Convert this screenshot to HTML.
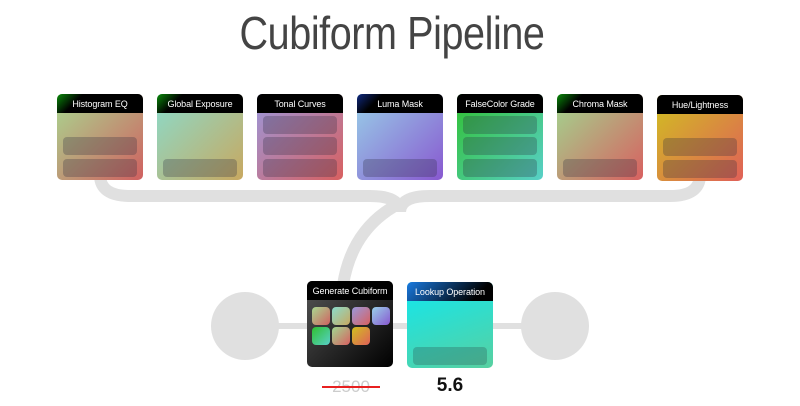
<!DOCTYPE html>
<html><head><style>
body{margin:0;width:800px;height:406px;background:#fff;position:relative;overflow:hidden;font-family:"Liberation Sans",sans-serif}
.t{position:absolute;left:392px;top:6px;font-size:46px;font-weight:300;color:#444;white-space:nowrap;transform:translateX(-50%) scaleX(0.86);letter-spacing:-0.5px}
.c{position:absolute;width:86px;height:86px;border-radius:5px;overflow:hidden}
.h{height:19px;background:#000;color:#fff;font-size:9px;text-align:center;line-height:20px;white-space:nowrap;letter-spacing:-0.1px}
.b{position:absolute;left:6px;width:74px;height:18px;border-radius:4px;background:rgba(40,40,60,.28)}
.s{position:absolute;width:18px;height:18px;border-radius:4px}
</style></head><body>
<svg width="800" height="406" style="position:absolute;left:0;top:0">
<g fill="none" stroke="#e0e0e0" stroke-width="12">
<path d="M100 175 Q100 196 130 196 L370 196 Q400 196 400 212"/>
<path d="M700 175 Q700 196 670 196 L430 196 Q400 196 400 212"/>
<path d="M400 203 Q352 228 343 285"/>
<path d="M245 326 L555 326" stroke-width="6"/>
</g>
<circle cx="245" cy="326" r="34" fill="#e0e0e0"/>
<circle cx="555" cy="326" r="34" fill="#e0e0e0"/>
</svg>
<div class="t">Cubiform Pipeline</div>

<div class="c" style="left:57px;top:94px;background:linear-gradient(135deg,#a8d890,#d06060)"><div class="h" style="background:linear-gradient(135deg,#0a8a0a,#000 25%)">Histogram EQ</div><div class="b" style="top:43px"></div><div class="b" style="top:65px"></div></div>
<div class="c" style="left:157px;top:94px;background:linear-gradient(135deg,#8adccc,#c8a860)"><div class="h" style="background:linear-gradient(135deg,#0a8a0a,#000 25%)">Global Exposure</div><div class="b" style="top:65px"></div></div>
<div class="c" style="left:257px;top:94px;background:linear-gradient(135deg,#9a98dc,#d86060)"><div class="h">Tonal Curves</div><div class="b" style="top:22px"></div><div class="b" style="top:43px"></div><div class="b" style="top:65px"></div></div>
<div class="c" style="left:357px;top:94px;background:linear-gradient(135deg,#98d0e8,#8858d0)"><div class="h" style="background:linear-gradient(135deg,#102a80,#000 25%)">Luma Mask</div><div class="b" style="top:65px"></div></div>
<div class="c" style="left:457px;top:94px;background:linear-gradient(135deg,#30c030,#58d0c8)"><div class="h">FalseColor Grade</div><div class="b" style="top:22px"></div><div class="b" style="top:43px"></div><div class="b" style="top:65px"></div></div>
<div class="c" style="left:557px;top:94px;background:linear-gradient(135deg,#a0d890,#d86060)"><div class="h" style="background:linear-gradient(135deg,#0a8a0a,#000 25%)">Chroma Mask</div><div class="b" style="top:65px"></div></div>
<div class="c" style="left:657px;top:95px;background:linear-gradient(135deg,#d0c020,#e06058)"><div class="h">Hue/Lightness</div><div class="b" style="top:43px"></div><div class="b" style="top:65px"></div></div>

<div class="c" style="left:307px;top:281px;background:linear-gradient(135deg,#555,#000)"><div class="h">Generate Cubiform</div>
<div class="s" style="left:5px;top:26px;background:linear-gradient(135deg,#a8d890,#d06060)"></div>
<div class="s" style="left:25px;top:26px;background:linear-gradient(135deg,#8adccc,#c8a860)"></div>
<div class="s" style="left:45px;top:26px;background:linear-gradient(135deg,#9a98dc,#d86060)"></div>
<div class="s" style="left:65px;top:26px;background:linear-gradient(135deg,#98d0e8,#8858d0)"></div>
<div class="s" style="left:5px;top:46px;background:linear-gradient(135deg,#30c030,#58d0c8)"></div>
<div class="s" style="left:25px;top:46px;background:linear-gradient(135deg,#a0d890,#d86060)"></div>
<div class="s" style="left:45px;top:46px;background:linear-gradient(135deg,#d0c020,#e06058)"></div>
</div>
<div class="c" style="left:407px;top:282px;background:linear-gradient(160deg,#10e8f0,#58d0a0)"><div class="h" style="background:linear-gradient(135deg,#1a7ae0,#000 80%)">Lookup Operation</div><div class="b" style="top:65px;background:rgba(40,80,80,.3)"></div></div>

<div style="position:absolute;left:322px;top:377px;width:58px;text-align:center;font-size:17px;color:#ccc">2500</div>
<div style="position:absolute;left:322px;top:386px;width:58px;height:2px;background:#e82020"></div>
<div style="position:absolute;left:420px;top:375px;width:60px;text-align:center;font-size:19px;font-weight:bold;color:#111">5.6</div>
</body></html>
